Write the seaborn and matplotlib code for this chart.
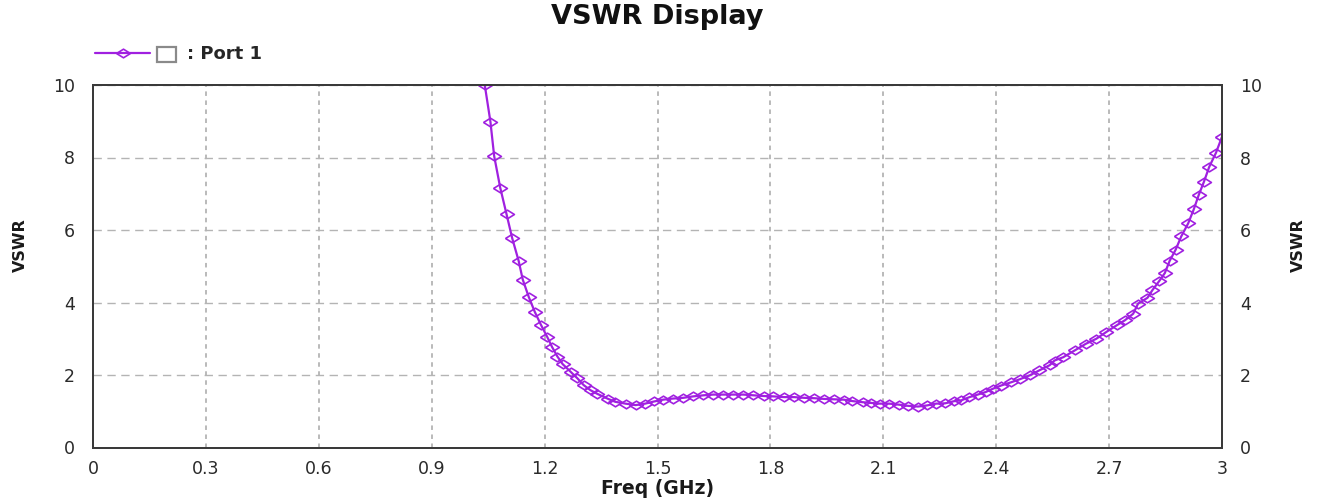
import matplotlib
matplotlib.use("Agg")
import matplotlib.pyplot as plt
from matplotlib.patches import Rectangle
import seaborn as sns
import pandas as pd

# ---- data ----
freq_ghz = [1.041, 1.056, 1.066, 1.082, 1.099, 1.114, 1.131, 1.142, 1.158, 1.174,
            1.190, 1.207, 1.220, 1.234, 1.248, 1.269, 1.287, 1.304, 1.322, 1.340,
            1.369, 1.388, 1.415, 1.442, 1.467, 1.491, 1.515, 1.541, 1.568, 1.595,
            1.622, 1.648, 1.675, 1.701, 1.728, 1.755, 1.782, 1.808, 1.837, 1.863,
            1.890, 1.917, 1.943, 1.968, 1.995, 2.018, 2.045, 2.067, 2.091, 2.116,
            2.143, 2.165, 2.192, 2.216, 2.240, 2.265, 2.289, 2.307, 2.329, 2.351,
            2.372, 2.391, 2.413, 2.440, 2.462, 2.489, 2.515, 2.542, 2.555, 2.578,
            2.609, 2.638, 2.666, 2.693, 2.720, 2.742, 2.764, 2.777, 2.802, 2.815,
            2.833, 2.848, 2.861, 2.877, 2.892, 2.910, 2.925, 2.938, 2.952, 2.966,
            2.984, 3.000]
vswr = [10.00, 8.99, 8.04, 7.17, 6.43, 5.77, 5.15, 4.63, 4.15, 3.74,
        3.39, 3.05, 2.77, 2.51, 2.30, 2.09, 1.91, 1.72, 1.58, 1.48,
        1.34, 1.26, 1.21, 1.17, 1.21, 1.27, 1.32, 1.35, 1.37, 1.41,
        1.44, 1.46, 1.46, 1.46, 1.46, 1.44, 1.42, 1.41, 1.39, 1.39,
        1.37, 1.36, 1.34, 1.33, 1.32, 1.28, 1.25, 1.23, 1.21, 1.21,
        1.18, 1.15, 1.13, 1.16, 1.21, 1.22, 1.28, 1.30, 1.39, 1.46,
        1.53, 1.62, 1.71, 1.80, 1.88, 1.99, 2.13, 2.27, 2.40, 2.49,
        2.68, 2.86, 3.00, 3.19, 3.37, 3.51, 3.69, 3.97, 4.13, 4.34,
        4.59, 4.81, 5.15, 5.46, 5.83, 6.18, 6.57, 6.96, 7.33, 7.74,
        8.13, 8.57]
x_ticks = [0, 0.3, 0.6, 0.9, 1.2, 1.5, 1.8, 2.1, 2.4, 2.7, 3.0]
x_tick_labels = ["0", "0.3", "0.6", "0.9", "1.2", "1.5", "1.8", "2.1", "2.4", "2.7", "3"]
y_ticks = [0, 2, 4, 6, 8, 10]
y_tick_labels = ["0", "2", "4", "6", "8", "10"]
series_name = ": Port 1"
title = "VSWR Display"
x_label = "Freq (GHz)"
y_label = "VSWR"

df = pd.DataFrame({"freq": freq_ghz, "vswr": vswr})

sns.set_style("white")
plt.rcParams["font.family"] = ["DejaVu Sans"]

W, H = 1317, 499
fig = plt.figure(figsize=(W / 100, H / 100), dpi=100)
L, R, T, B = 93, 1222, 85, 447.5
ax = fig.add_axes([L / W, 1 - B / H, (R - L) / W, (B - T) / H])

purple = "#A020E0"
diamond = [(-1, 0), (0, 0.62), (1, 0), (0, -0.62), (-1, 0)]

sns.lineplot(data=df, x="freq", y="vswr", ax=ax, sort=False, estimator=None,
             color=purple, linewidth=1.6, marker=diamond, markersize=10,
             markerfacecolor="none", markeredgecolor=purple, markeredgewidth=1.2,
             label=series_name)

ax.set_xlim(0, 3)
ax.set_ylim(0, 10)
ax.set_xticks(x_ticks)
ax.set_xticklabels(x_tick_labels)
ax.set_yticks(y_ticks)
ax.set_yticklabels(y_tick_labels)
tick_col = "#2a2a2a"
ax.tick_params(axis="both", length=0, labelsize=12.5, colors=tick_col)
ax.tick_params(axis="y", pad=13)
ax.tick_params(axis="x", pad=9)

ax.yaxis.grid(True, color="#b4b4b4", linestyle=(0, (6, 4)), linewidth=1.0)
ax.xaxis.grid(True, color="#b4b4b4", linestyle=(0, (2.5, 2.5)), linewidth=1.3)
ax.set_axisbelow(True)
for sp in ax.spines.values():
    sp.set_visible(True)
    sp.set_color("#3a3a3a")
    sp.set_linewidth(1.4)

ax.set_xlabel(x_label, fontsize=13.5, fontweight="bold", color="#1a1a1a",
              va="center")
ax.xaxis.set_label_coords(0.5, (B - 488) / (B - T))
ax.set_ylabel(y_label, fontsize=11.5, fontweight="bold", color="#1a1a1a",
              va="center", ha="center")
ax.yaxis.set_label_coords((20 - L) / (R - L), (B - 245) / (B - T))

ax2 = ax.twinx()
ax2.set_ylim(ax.get_ylim())
ax2.set_yticks(y_ticks)
ax2.set_yticklabels(y_tick_labels)
ax2.tick_params(axis="y", length=0, labelsize=12.5, colors=tick_col, pad=13)
ax2.set_ylabel(y_label, fontsize=11.5, fontweight="bold", color="#1a1a1a",
               rotation=90, va="center", ha="center")
ax2.yaxis.set_label_coords((1298 - L) / (R - L), (B - 245) / (B - T))
for sp in ax2.spines.values():
    sp.set_color("#3a3a3a")
    sp.set_linewidth(1.4)

fig.text((L + R) / 2 / W, 1 - 17 / H, title, fontsize=19.5, fontweight="bold",
         color="#111111", ha="center", va="center")

# legend
handles, labels = ax.get_legend_handles_labels()
if ax.get_legend():
    ax.get_legend().remove()
leg = fig.legend(handles, labels, loc="center left",
                 bbox_to_anchor=(95 / W, 1 - 54 / H), bbox_transform=fig.transFigure,
                 frameon=False, borderpad=0, borderaxespad=0, handlelength=3.05,
                 handletextpad=2.05, numpoints=1,
                 prop={"family": "DejaVu Sans", "weight": "bold", "size": 13})
# checkbox between line and label
fig.patches.append(Rectangle((157 / W, 1 - 62 / H), 19 / W, 15 / H,
                             transform=fig.transFigure, facecolor="white",
                             edgecolor="#8a8a8a", linewidth=1.6))

fig.savefig("out.png", dpi=100)
